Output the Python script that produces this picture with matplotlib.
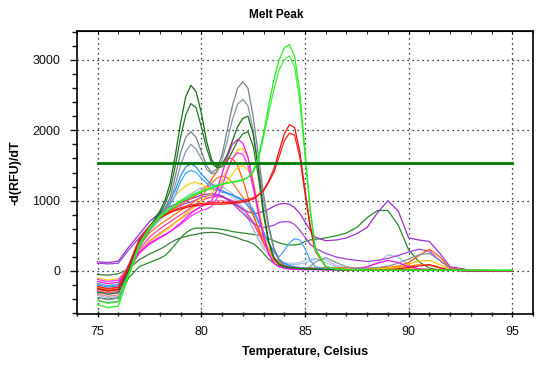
import numpy as np
import matplotlib.pyplot as plt
from matplotlib.ticker import MultipleLocator

plt.rcParams['font.family'] = ['Liberation Sans', 'DejaVu Sans']

# temperature grid of the read-off points
TEMPS = [75, 75.5, 76, 76.5, 77, 77.5, 78,
         78.25, 78.5, 78.75, 79, 79.25, 79.5, 79.75, 80,
         80.25, 80.5, 80.75, 81, 81.25, 81.5, 81.75, 82,
         82.25, 82.5, 82.75, 83, 83.25, 83.5, 83.75, 84,
         84.25, 84.5, 84.75, 85, 85.25, 85.5,
         86, 86.5, 87, 87.5, 88, 88.5, 89, 89.5, 90, 90.5, 91, 91.5, 92,
         93, 94, 95]

lime_a = [-480, -520, -500, -60, 350, 600, 760,
          820, 880, 930, 980, 1020, 1060, 1090, 1120,
          1150, 1180, 1210, 1230, 1250, 1260, 1270, 1290,
          1330, 1420, 1620, 1950, 2350, 2720, 3000, 3170,
          3220, 3050, 2550, 1700, 900, 320,
          60, 30, 20, 15, 12, 10, 10, 10, 10, 10, 10, 10, 10,
          10, 10, 10]
lime_b = [-420, -460, -440, -40, 380, 620, 780,
          840, 900, 950, 1000, 1040, 1080, 1110, 1140,
          1160, 1190, 1220, 1240, 1250, 1270, 1280, 1300,
          1330, 1400, 1580, 1900, 2250, 2580, 2860, 3000,
          3060, 2900, 2420, 1650, 850, 300,
          60, 30, 20, 15, 12, 10, 10, 10, 10, 10, 10, 10, 10,
          10, 10, 10]
red_a = [-250, -280, -260, 50, 420, 620, 750,
         790, 830, 860, 880, 900, 920, 930, 940,
         945, 950, 950, 950, 955, 960, 970, 980,
         1000, 1020, 1080, 1150, 1280, 1450, 1700, 1950,
         2080, 2040, 1700, 1150, 650, 300,
         60, 30, 20, 15, 15, 15, 20, 30, 50, 70, 90, 50, 10,
         5, 5, 5]
red_b = [-220, -250, -230, 80, 450, 640, 760,
         800, 840, 870, 900, 920, 940, 950, 960,
         965, 970, 970, 970, 975, 980, 990, 1000,
         1020, 1040, 1080, 1140, 1260, 1400, 1620, 1850,
         1960, 1930, 1620, 1100, 620, 280,
         60, 30, 20, 15, 15, 15, 15, 15, 15, 15, 15, 10, 10,
         5, 5, 5]
dkgreen_a = [-300, -330, -310, 0, 380, 620, 850,
             1000, 1250, 1650, 2100, 2480, 2640, 2550, 2250,
             1850, 1580, 1490, 1520, 1650, 1850, 2050, 2170,
             2200, 1950, 1450, 850, 420, 190, 90, 60,
             50, 40, 35, 30, 30, 25,
             20, 20, 15, 15, 15, 15, 15, 15, 15, 15, 15, 10, 10,
             5, 5, 5]
dkgreen_b = [-250, -280, -260, 20, 400, 630, 820,
             950, 1150, 1500, 1900, 2220, 2380, 2320, 2050,
             1750, 1530, 1470, 1480, 1560, 1700, 1850, 1950,
             1980, 1780, 1350, 800, 400, 180, 90, 60,
             50, 40, 35, 30, 30, 25,
             20, 20, 15, 15, 15, 15, 15, 15, 15, 15, 15, 10, 10,
             5, 5, 5]
gray_a = [-420, -450, -430, -60, 330, 580, 780,
          880, 1050, 1350, 1680, 1900, 1980, 1900, 1700,
          1500, 1400, 1450, 1650, 2000, 2350, 2600, 2690,
          2600, 2200, 1650, 1100, 650, 330, 150, 80,
          60, 50, 45, 40, 40, 35,
          30, 25, 20, 20, 20, 20, 20, 20, 20, 20, 20, 15, 10,
          5, 5, 5]
gray_b = [-380, -410, -390, -40, 350, 590, 760,
          850, 980, 1230, 1500, 1700, 1800, 1730, 1600,
          1450, 1380, 1400, 1580, 1850, 2150, 2370, 2440,
          2350, 2000, 1500, 1000, 600, 310, 150, 80,
          60, 50, 45, 40, 60, 130,
          190, 120, 60, 40, 40, 50, 70, 110, 170, 230, 250, 150, 30,
          10, 5, 5]
blue_a = [-200, -230, -210, 80, 420, 630, 800,
          900, 1000, 1150, 1350, 1480, 1520, 1480, 1380,
          1300, 1230, 1180, 1140, 1110, 1080, 1040, 1000,
          930, 850, 700, 550, 400, 270, 170, 110,
          80, 60, 50, 40, 35, 30,
          30, 20, 15, 15, 15, 15, 15, 15, 15, 15, 10, 10, 10,
          5, 5, 5]
blue_b = [-180, -210, -190, 90, 430, 620, 780,
          860, 950, 1080, 1270, 1390, 1430, 1400, 1320,
          1250, 1180, 1150, 1120, 1100, 1080, 1050, 1020,
          970, 880, 720, 550, 400, 280, 200, 290,
          400, 460, 440, 320, 150, 60,
          30, 20, 15, 15, 15, 15, 15, 15, 15, 15, 10, 10, 10,
          5, 5, 5]
magenta_a = [-150, -180, -160, 30, 250, 380, 470,
             510, 560, 620, 680, 750, 820, 870, 920,
             950, 1000, 1150, 1380, 1620, 1800, 1870, 1820,
             1620, 1250, 850, 500, 250, 110, 60, 40,
             30, 25, 20, 20, 20, 20,
             20, 20, 20, 30, 60, 110, 150, 120, 60, 30, 20, 15, 10,
             5, 5, 5]
magenta_b = [-120, -150, -130, 50, 270, 400, 480,
             520, 560, 610, 660, 720, 780, 820, 860,
             880, 920, 1030, 1200, 1420, 1600, 1680, 1660,
             1500, 1180, 820, 490, 250, 110, 60, 40,
             30, 25, 20, 20, 20, 20,
             15, 15, 15, 15, 15, 15, 15, 15, 15, 15, 10, 10, 10,
             5, 5, 5]
yellow_a = [-180, -210, -190, 20, 280, 420, 520,
            570, 620, 690, 750, 810, 880, 920, 1000,
            1050, 1100, 1180, 1280, 1450, 1600, 1720, 1740,
            1620, 1300, 900, 550, 280, 120, 70, 50,
            40, 35, 30, 30, 30, 30,
            30, 30, 30, 30, 30, 30, 40, 60, 100, 140, 150, 90, 20,
            5, 5, 5]
yellow_b = [-100, -130, -110, 60, 380, 600, 800,
            890, 980, 1070, 1150, 1210, 1250, 1260, 1230,
            1190, 1150, 1160, 1200, 1280, 1380, 1470, 1500,
            1440, 1250, 900, 550, 280, 120, 70, 50,
            40, 35, 30, 30, 30, 30,
            30, 30, 30, 30, 30, 30, 30, 30, 30, 30, 20, 15, 10,
            5, 5, 5]
orange_a = [-260, -290, -270, 60, 420, 620, 760,
            810, 860, 900, 950, 990, 1030, 1080, 1120,
            1200, 1300, 1420, 1530, 1600, 1600, 1500, 1300,
            1050, 800, 600, 400, 270, 150, 100, 70,
            60, 50, 40, 40, 40, 40,
            40, 40, 40, 40, 40, 40, 50, 70, 120, 220, 310, 200, 40,
            10, 5, 5]
orange_b = [-230, -260, -240, 40, 360, 540, 660,
            710, 760, 810, 860, 910, 960, 1000, 1050,
            1150, 1250, 1320, 1350, 1330, 1260, 1150, 1050,
            920, 800, 620, 450, 320, 200, 120, 80,
            60, 50, 40, 40, 40, 40,
            40, 40, 40, 40, 40, 40, 40, 50, 70, 90, 80, 40, 10,
            5, 5, 5]
steel_a = [-350, -380, -360, -20, 330, 560, 740,
           810, 880, 940, 1000, 1050, 1100, 1140, 1180,
           1200, 1230, 1220, 1200, 1150, 1100, 1000, 900,
           750, 600, 450, 320, 230, 150, 120, 100,
           95, 90, 100, 110, 140, 170,
           160, 80, 40, 40, 60, 120, 230, 200, 80, 30, 20, 10, 10,
           5, 5, 5]
steel_b = [-300, -330, -310, 0, 350, 560, 720,
           790, 850, 910, 960, 1010, 1050, 1090, 1120,
           1140, 1160, 1160, 1150, 1100, 1050, 960, 880,
           750, 600, 460, 350, 250, 180, 140, 120,
           110, 110, 120, 150, 170, 180,
           120, 60, 30, 20, 20, 20, 20, 20, 20, 20, 15, 10, 10,
           5, 5, 5]
purple_a = [130, 120, 140, 340, 520, 700, 830,
            880, 920, 950, 980, 1000, 1030, 1050, 1080,
            1090, 1100, 1090, 1060, 1020, 980, 930, 880,
            840, 820, 820, 850, 880, 920, 950, 960,
            950, 900, 820, 700, 580, 480,
            430, 440, 470, 530, 620, 830, 1000, 850, 470, 440, 420, 250, 60,
            10, 5, 5]
purple_b = [110, 100, 110, 300, 470, 640, 770,
            820, 860, 900, 930, 960, 980, 1010, 1050,
            1060, 1080, 1080, 1070, 1020, 960, 890, 820,
            750, 680, 640, 620, 630, 650, 690, 700,
            700, 660, 580, 480, 380, 320,
            250, 200, 170, 150, 135, 150, 180, 220, 270, 310, 280, 150, 40,
            10, 5, 5]
green_low_a = [-380, -400, -380, -100, 60, 120, 180,
               220, 290, 380, 470, 540, 590, 610, 610,
               610, 610, 600, 590, 580, 560, 550, 540,
               530, 520, 510, 490, 460, 430, 400, 380,
               370, 370, 380, 420, 440, 450,
               470, 500, 540, 620, 760, 860, 860, 650, 300, 130, 40, 15, 10,
               5, 5, 5]
green_low_b = [-50, -60, -40, 30, 160, 240, 310,
               350, 400, 440, 470, 490, 510, 520, 540,
               545, 550, 545, 530, 510, 490, 470, 440,
               420, 390, 330, 250, 170, 110, 70, 50,
               40, 35, 30, 30, 30, 30,
               25, 20, 20, 20, 15, 15, 15, 15, 15, 10, 10, 10, 10,
               5, 5, 5]
pink_a = [-280, -310, -290, 20, 300, 480, 600,
          650, 700, 750, 800, 850, 900, 950, 1000,
          1030, 1050, 1060, 1050, 1030, 1000, 950, 900,
          800, 700, 550, 400, 280, 180, 110, 70,
          50, 40, 30, 30, 30, 30,
          25, 25, 25, 25, 25, 25, 25, 25, 20, 20, 20, 15, 10,
          5, 5, 5]
pink_b = [-330, -360, -340, -30, 260, 430, 540,
          590, 640, 690, 740, 790, 840, 880, 920,
          950, 980, 1000, 1000, 990, 960, 920, 860,
          780, 680, 540, 400, 280, 180, 110, 70,
          50, 40, 30, 30, 30, 30,
          25, 25, 25, 25, 25, 25, 25, 25, 20, 20, 20, 15, 10,
          5, 5, 5]

THRESHOLD = 1540

# drawn back to front
curves = [
    (green_low_b, '#3a7a3a'), (green_low_a, '#2a8c2a'),
    (pink_b, '#ff7a8a'), (pink_a, '#ff3ca0'),
    (steel_b, '#b8cbe6'), (steel_a, '#a9bedc'),
    (purple_b, '#a040dd'), (purple_a, '#9a30d0'),
    (orange_b, '#ff7a20'), (orange_a, '#ff5a10'),
    (yellow_b, '#ffd21a'), (yellow_a, '#ffc400'),
    (blue_b, '#4aa4ff'), (blue_a, '#3090ff'),
    (magenta_b, '#ff30ff'), (magenta_a, '#ff10ff'),
    (gray_b, '#8795a0'), (gray_a, '#76838e'),
    (dkgreen_b, '#237a23'), (dkgreen_a, '#1a6e1a'),
    (red_b, '#ff2020'), (red_a, '#ee1010'),
    (lime_b, '#3cf03c'), (lime_a, '#22ee22'),
]

fig, ax = plt.subplots(figsize=(5.53, 3.71), dpi=100)
fig.subplots_adjust(left=0.139, right=0.964, bottom=0.154, top=0.916)

for vals, col in curves:
    assert len(vals) == len(TEMPS)
    ax.plot(TEMPS, vals, color=col, lw=0.9, solid_joinstyle='round')

ax.plot([75, 95], [THRESHOLD, THRESHOLD], color='#007700', lw=2, zorder=5)

ax.set_xlim(74, 96)
ax.set_ylim(-610, 3410)
ax.xaxis.set_major_locator(MultipleLocator(5))
ax.xaxis.set_minor_locator(MultipleLocator(1))
ax.yaxis.set_major_locator(MultipleLocator(1000))
ax.yaxis.set_minor_locator(MultipleLocator(200))
ax.grid(True, which='major', color='black', linestyle=(0, (1, 3)), lw=0.9)

ax.tick_params(axis='y', which='both', direction='out', labelsize=9, pad=7, colors='#111111')
ax.tick_params(axis='x', which='both', direction='inout', labelsize=9, pad=6, colors='#111111')
ax.tick_params(which='major', length=5, width=1)
ax.tick_params(which='minor', length=3.5, width=1)

top = ax.secondary_xaxis('top')
top.xaxis.set_major_locator(MultipleLocator(5))
top.xaxis.set_minor_locator(MultipleLocator(1))
top.tick_params(which='both', direction='in', labeltop=False, length=2.5)

for s in ax.spines.values():
    s.set_linewidth(1.2)

ax.set_xlabel('Temperature, Celsius', fontsize=9, fontweight='bold', labelpad=6)
ax.set_ylabel('-d(RFU)/dT', fontsize=9, fontweight='bold', labelpad=8)
fig.text(0.5, 1 - 15 / 371, 'Melt Peak', ha='center', va='center',
         fontsize=8.5, fontweight='bold')

fig.savefig('out.png', dpi=100)
